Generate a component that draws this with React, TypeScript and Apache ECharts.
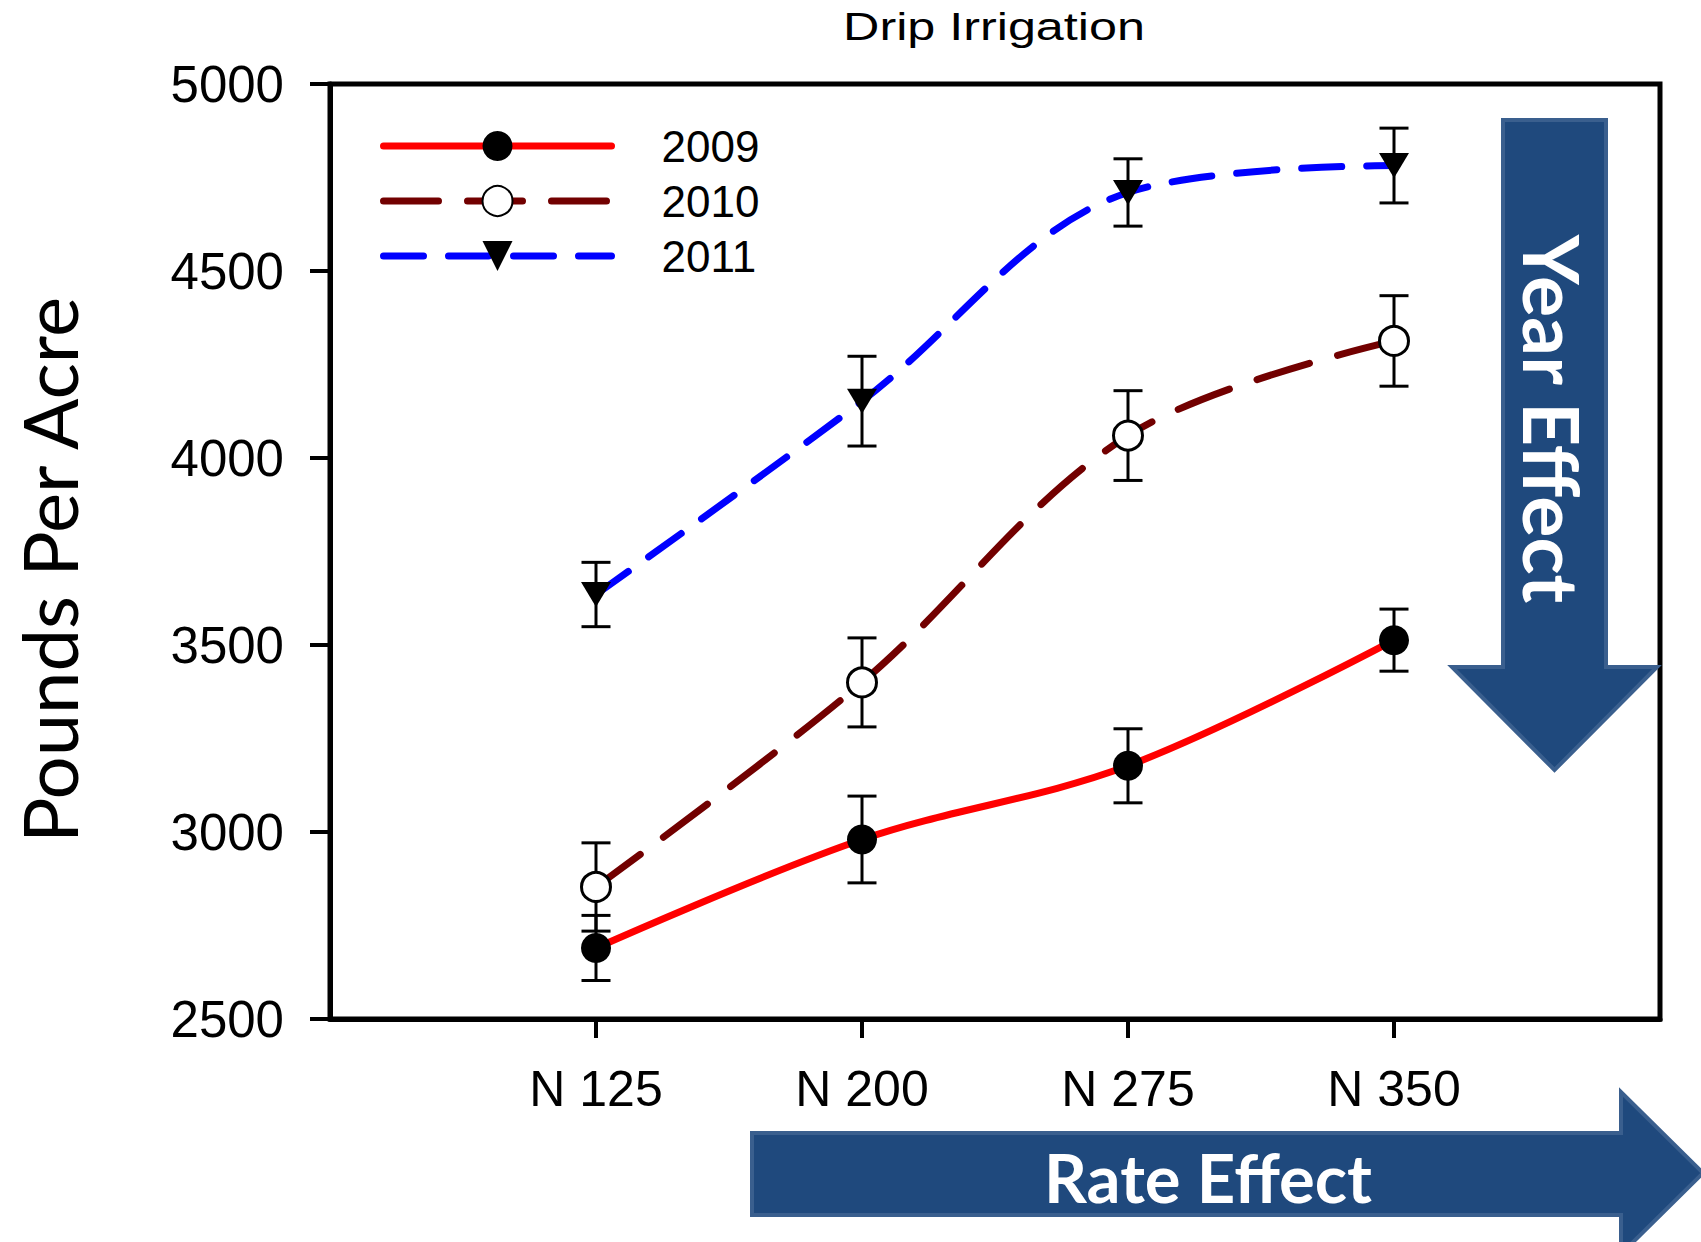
import React, { useEffect, useRef } from "react";
import * as echarts from "echarts";

// ---------- data ----------
const categories = ["N 125", "N 200", "N 275", "N 350"];
const years = ["2009", "2010", "2011"];
const mean2009 = [2690, 2980, 3177, 3513];
const err2009 = [87, 116, 99, 83];
const mean2010 = [2853, 3400, 4060, 4313];
const err2010 = [118, 119, 120, 121];
const mean2011 = [3635, 4152, 4710, 4782];
const err2011 = [86, 120, 90, 100];
const yTicks = [2500, 3000, 3500, 4000, 4500, 5000];

const titleText = "Drip Irrigation";
const yTitle = "Pounds Per Acre";
const yearArrowText = "Year Effect";
const rateArrowText = "Rate Effect";

const ARIAL = "'Liberation Sans', Arial, sans-serif";
const CALIBRI = "Lato, 'Noto Sans', sans-serif";

function pts(means: number[]) {
  return categories.map((_, i) => [i + 1, means[i]]);
}
function errPts(means: number[], errs: number[]) {
  return categories.map((_, i) => [i + 1, means[i] - errs[i], means[i] + errs[i]]);
}

function errorSeries(name: string, means: number[], errs: number[]) {
  return {
    type: "custom",
    name,
    silent: true,
    z: 2,
    data: errPts(means, errs),
    encode: { x: 0, y: [1, 2] },
    renderItem: (params: any, api: any) => {
      const x = api.value(0);
      const top = api.coord([x, api.value(2)]);
      const bot = api.coord([x, api.value(1)]);
      const hw = 14.5;
      const st = { stroke: "#000", lineWidth: 3 };
      return {
        type: "group",
        children: [
          { type: "line", shape: { x1: top[0], y1: top[1], x2: bot[0], y2: bot[1] }, style: st },
          { type: "line", shape: { x1: top[0] - hw, y1: top[1], x2: top[0] + hw, y2: top[1] }, style: st },
          { type: "line", shape: { x1: bot[0] - hw, y1: bot[1], x2: bot[0] + hw, y2: bot[1] }, style: st },
        ],
      };
    },
  };
}

export default function App() {
  const ref = useRef<HTMLDivElement>(null);

  useEffect(() => {
    if (!ref.current) return;
    const chart = echarts.init(ref.current, undefined, { renderer: "svg" });

    const option: any = {
      animation: false,
      backgroundColor: "#fff",
      grid: {
        left: 330,
        right: 41,
        top: 84,
        bottom: 223,
        show: true,
        borderColor: "#000",
        borderWidth: 5,
        outerBoundsMode: "none",
      },
      legend: {
        data: years,
        orient: "vertical",
        left: 380,
        top: 124,
        padding: 0,
        itemWidth: 228,
        itemHeight: 37.5,
        itemGap: 11,
        selectedMode: false,
        lineStyle: { width: 7 },
        textStyle: {
          fontSize: 44,
          fontFamily: ARIAL,
          color: "#000",
          lineHeight: 44,
          padding: [0, 0, 0, 45],
        },
      },
      xAxis: {
        type: "value",
        min: 0,
        max: 5,
        splitLine: { show: false },
        axisLine: { show: true, onZero: false, lineStyle: { color: "#000", width: 5 } },
        axisTick: {
          show: true,
          length: 19,
          customValues: [1, 2, 3, 4],
          lineStyle: { color: "#000", width: 4 },
        },
        axisLabel: {
          customValues: [1, 2, 3, 4],
          formatter: (v: number) => categories[Math.round(v) - 1] ?? "",
          fontSize: 50,
          fontFamily: ARIAL,
          color: "#000",
          margin: 45,
        },
      },
      yAxis: {
        type: "value",
        min: yTicks[0],
        max: yTicks[yTicks.length - 1],
        interval: 500,
        splitLine: { show: false },
        axisLine: { show: true, onZero: false, lineStyle: { color: "#000", width: 5 } },
        axisTick: { show: true, length: 20, lineStyle: { color: "#000", width: 4 } },
        axisLabel: {
          formatter: (v: number) => String(v),
          fontSize: 51,
          fontFamily: ARIAL,
          color: "#000",
          margin: 46,
        },
      },
      series: [
        errorSeries("2009 SE", mean2009, err2009),
        errorSeries("2010 SE", mean2010, err2010),
        errorSeries("2011 SE", mean2011, err2011),
        {
          type: "line",
          name: years[0],
          data: pts(mean2009),
          smooth: 0.35,
          z: 3,
          silent: true,
          symbol: "circle",
          symbolSize: 30,
          lineStyle: { color: "#FF0000", width: 7, type: "solid", cap: "round" },
          itemStyle: { color: "#000", borderColor: "#000", borderWidth: 0 },
        },
        {
          type: "line",
          name: years[1],
          data: pts(mean2010),
          smooth: 0.35,
          z: 3,
          silent: true,
          symbol: "circle",
          symbolSize: 29,
          lineStyle: { color: "#720000", width: 7, type: [55, 29], cap: "round" },
          itemStyle: { color: "#fff", borderColor: "#000", borderWidth: 3 },
        },
        {
          type: "line",
          name: years[2],
          data: pts(mean2011),
          smooth: 0.35,
          z: 3,
          silent: true,
          symbol: "triangle",
          symbolSize: [30, 25],
          symbolRotate: 180,
          lineStyle: { color: "#0000FF", width: 7, type: [40, 25], cap: "round" },
          itemStyle: { color: "#000", borderColor: "#000", borderWidth: 0 },
        },
      ],
      graphic: [
        {
          type: "text",
          x: 994,
          y: 27,
          scaleX: 1.29,
          z: 100,
          style: {
            text: titleText,
            fontSize: 39,
            fontFamily: ARIAL,
            fill: "#000",
            align: "center",
            verticalAlign: "middle",
            textAlign: "center",
            textVerticalAlign: "middle",
          },
        },
        {
          type: "text",
          x: 48,
          y: 570,
          rotation: Math.PI / 2,
          z: 100,
          style: {
            text: yTitle,
            fontSize: 76,
            fontFamily: CALIBRI,
            fill: "#000",
            align: "center",
            verticalAlign: "middle",
            textAlign: "center",
            textVerticalAlign: "middle",
          },
        },
        {
          type: "polygon",
          z: 100,
          shape: {
            points: [
              [1503, 120],
              [1606, 120],
              [1606, 667],
              [1657, 667],
              [1554.5, 770],
              [1452, 667],
              [1503, 667],
            ],
          },
          style: { fill: "#1F497D", stroke: "#3A5F8E", lineWidth: 4 },
        },
        {
          type: "polygon",
          z: 100,
          shape: {
            points: [
              [752, 1133],
              [1621, 1133],
              [1621, 1092],
              [1703, 1173],
              [1621, 1254],
              [1621, 1215],
              [752, 1215],
            ],
          },
          style: { fill: "#1F497D", stroke: "#3A5F8E", lineWidth: 4 },
        },
        {
          type: "text",
          x: 1553,
          y: 419,
          rotation: -Math.PI / 2,
          z: 101,
          style: {
            text: yearArrowText,
            fontSize: 77,
            fontWeight: "bold",
            fontFamily: CALIBRI,
            fill: "#fff",
            align: "center",
            verticalAlign: "middle",
            textAlign: "center",
            textVerticalAlign: "middle",
            shadowColor: "rgba(0,0,0,0.35)",
            shadowBlur: 3,
            shadowOffsetX: 2,
            shadowOffsetY: 2,
          },
        },
        {
          type: "text",
          x: 1208,
          y: 1177,
          z: 101,
          style: {
            text: rateArrowText,
            fontSize: 67,
            fontWeight: "bold",
            fontFamily: CALIBRI,
            fill: "#fff",
            align: "center",
            verticalAlign: "middle",
            textAlign: "center",
            textVerticalAlign: "middle",
            shadowColor: "rgba(0,0,0,0.35)",
            shadowBlur: 3,
            shadowOffsetX: 2,
            shadowOffsetY: 2,
          },
        },
      ],
    };

    chart.setOption(option);
    return () => chart.dispose();
  }, []);

  return (
    <div
      ref={ref}
      style={{ position: "fixed", left: 0, top: 0, width: 1701, height: 1242, background: "#fff" }}
    />
  );
}
